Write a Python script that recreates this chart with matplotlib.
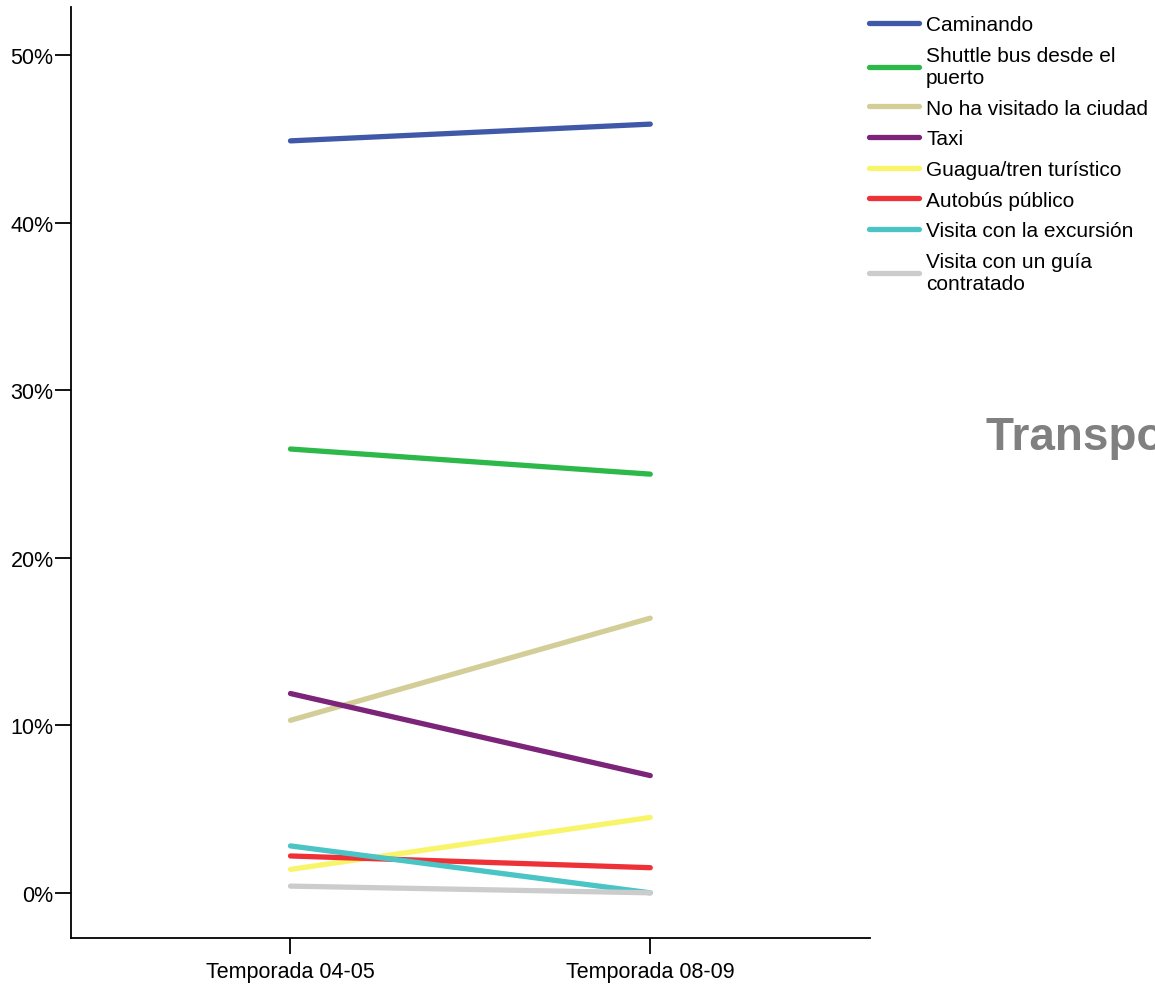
import numpy as np
import matplotlib
matplotlib.use("Agg")
import matplotlib.pyplot as plt
from matplotlib.ticker import PercentFormatter

plt.rcParams['font.family'] = ['Liberation Sans', 'DejaVu Sans']

# Data (percent)
seasons = ["Temporada 04-05", "Temporada 08-09"]
labels = ["Caminando", "Shuttle bus desde el\npuerto", "No ha visitado la ciudad",
          "Taxi", "Guagua/tren turístico", "Autobús público",
          "Visita con la excursión", "Visita con un guía\ncontratado"]
caminando = [44.9, 45.9]
shuttle = [26.5, 25.0]
no_visitado = [10.3, 16.4]
taxi = [11.9, 7.0]
guagua = [1.4, 4.5]
autobus = [2.2, 1.5]
excursion = [2.8, 0.0]
guia = [0.4, 0.0]
series = [caminando, shuttle, no_visitado, taxi, guagua, autobus, excursion, guia]
colors = ["#3F58A8", "#2DB84A", "#D3CE98", "#7B2479", "#F8F56A", "#EE3137",
          "#4AC4C4", "#CCCCCC"]

fig = plt.figure(figsize=(11.55, 9.87), dpi=100)
ax = fig.add_axes([0.0615, 0.0486, 0.6915, 0.9434])

x = np.arange(len(seasons))
for vals, lab, c in zip(series, labels, colors):
    ax.plot(x, vals, color=c, lw=3.8, solid_capstyle='round', label=lab)

ax.set_xlim(-0.61, 1.61)
ax.set_ylim(-2.7, 52.9)
ax.set_xticks(x)
ax.set_xticklabels(seasons)
ax.set_yticks(np.arange(0, 51, 10))
ax.yaxis.set_major_formatter(PercentFormatter(decimals=0))
ax.tick_params(axis='both', labelsize=15.5, length=11.5, width=1.3, direction='out')
ax.tick_params(axis='x', pad=5)
ax.tick_params(axis='y', pad=1)
for s in ['top', 'right']:
    ax.spines[s].set_visible(False)
for s in ['left', 'bottom']:
    ax.spines[s].set_linewidth(1.3)

fig.legend(loc='upper left', bbox_to_anchor=(0.745, 0.992), frameon=False,
           fontsize=15, handlelength=2.4, handletextpad=0.35,
           labelspacing=0.56, borderaxespad=0)

# title sits partly outside the figure, as in the source
fig.text(0.854, 0.556, "Transporte utilizado", fontsize=33, fontweight='bold',
         color='#808080', va='center', ha='left')

fig.savefig("out.png", dpi=100)
